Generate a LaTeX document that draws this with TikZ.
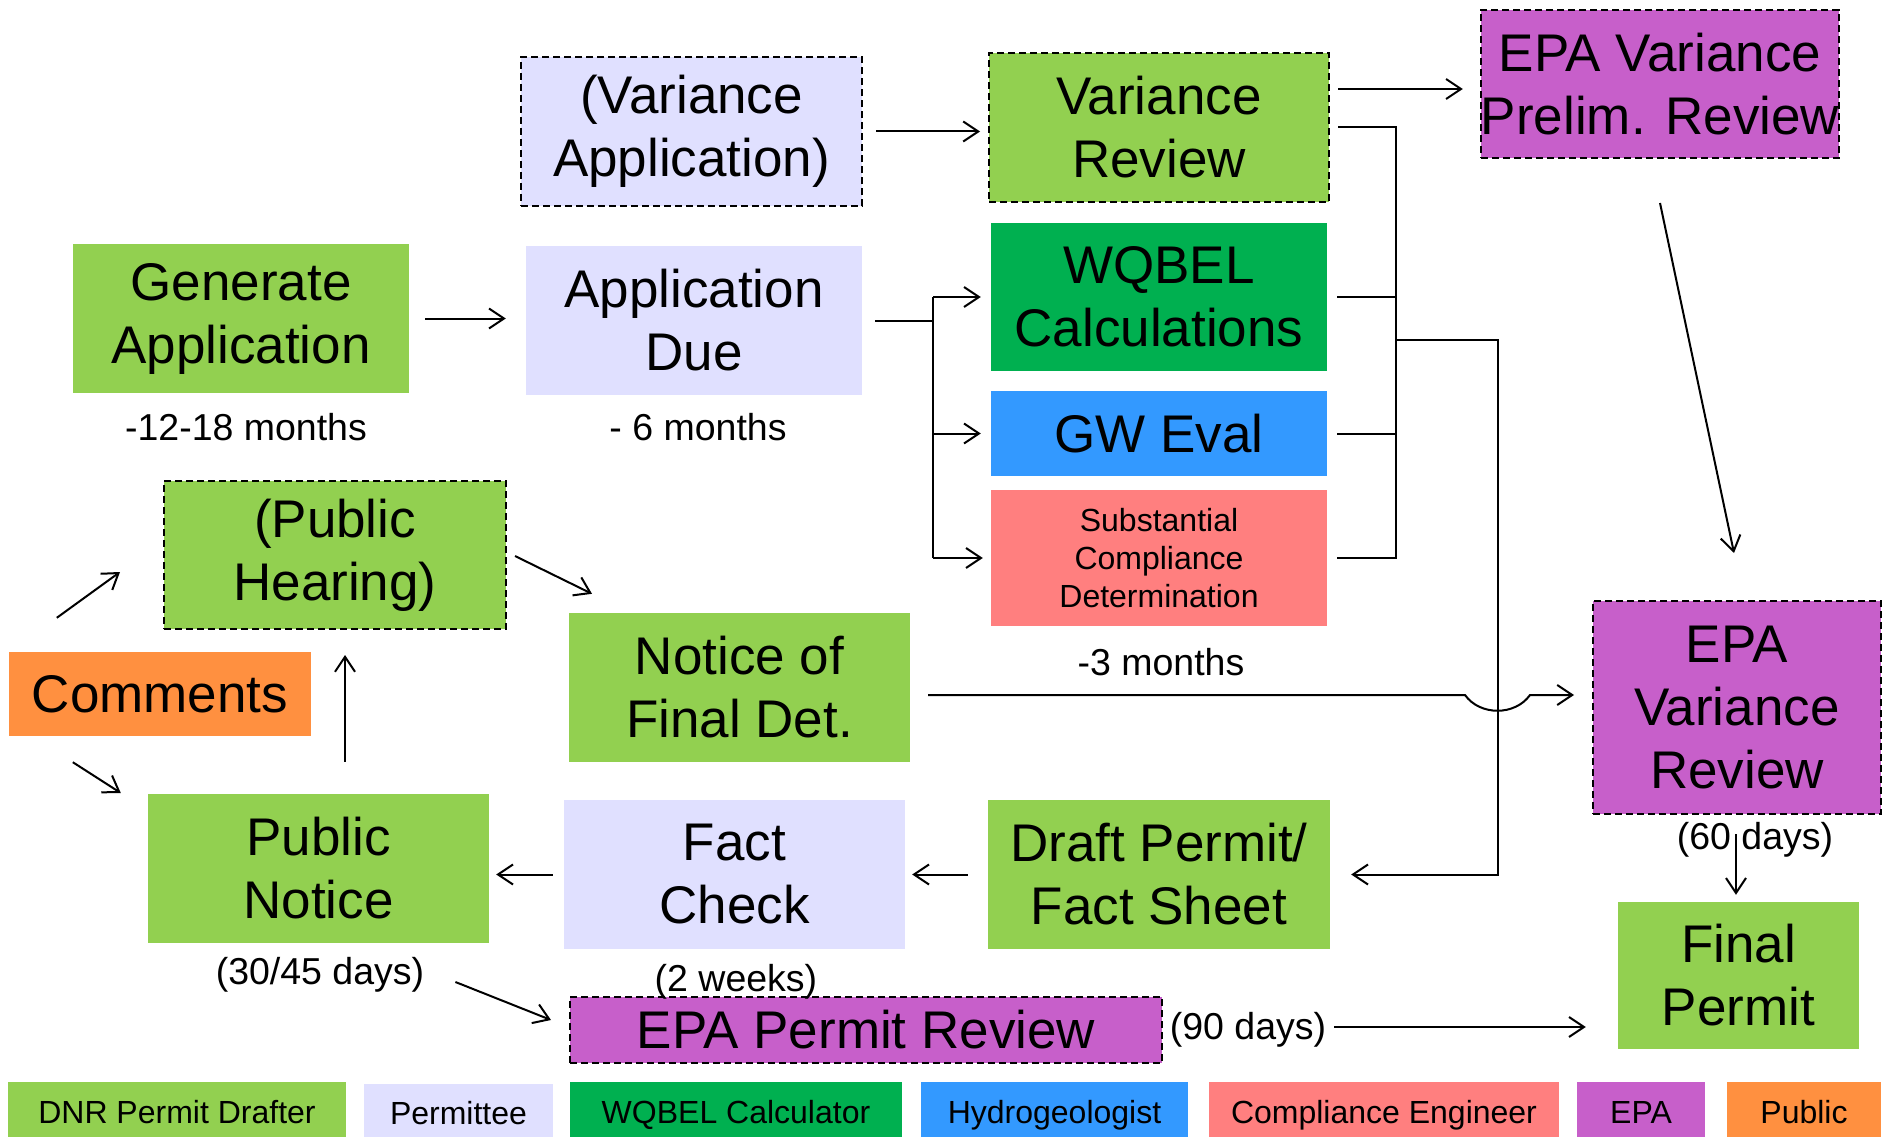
\documentclass[tikz,border=0pt]{standalone}
\usepackage{fontspec}
\setmainfont{Liberation Sans}
\usetikzlibrary{arrows.meta,calc}
\definecolor{dnr}{HTML}{92D050}
\definecolor{perm}{HTML}{E0E0FF}
\definecolor{wq}{HTML}{00B050}
\definecolor{hyd}{HTML}{3399FF}
\definecolor{ce}{HTML}{FF7F7F}
\definecolor{epa}{HTML}{C75FCA}
\definecolor{pub}{HTML}{FF9040}
\begin{document}
\begin{tikzpicture}[x=1pt,y=-1pt,
  box/.style={inner sep=0pt, align=center, font=\fontsize{53}{63}\selectfont, text=black},
  dbox/.style={box, draw=black, line width=2pt, dash pattern=on 7pt off 4pt},
  lab/.style={inner sep=0pt, font=\fontsize{37.5}{44}\selectfont},
  lbox/.style={inner sep=0pt, font=\fontsize{32}{38}\selectfont, minimum height=55pt, text height=28pt, text depth=0pt},
  conn/.style={line width=2pt},
  arr/.style={line width=2pt, -{Straight Barb[length=15pt,width=20pt]}},
]
\useasboundingbox (0,0) rectangle (1888,1137);

% boxes
\node[box, fill=dnr, minimum width=336pt, minimum height=149pt] (gen) at (241,318.5) {Generate\\Application};
\node[box, fill=perm, minimum width=336pt, minimum height=149pt] (appdue) at (694,320.5) {Application\\Due};
\node[dbox, fill=perm, minimum width=341pt, minimum height=149pt] (varapp) at (691.5,131.5) {(Variance\\Application)};
\node[dbox, fill=dnr, minimum width=340pt, minimum height=149pt] (varrev) at (1159,127.5) {Variance\\Review};
\node[dbox, fill=epa, minimum width=358pt, minimum height=148pt] (prelim) at (1660,84) {EPA Variance\\Prelim. Review};
\node[box, fill=wq, minimum width=336pt, minimum height=148pt] (wqbel) at (1159,297) {WQBEL\\Calculations};
\node[box, fill=hyd, minimum width=336pt, minimum height=85pt] (gw) at (1159,433.5) {GW Eval};
\node[box, fill=ce, minimum width=336pt, minimum height=136pt, font=\fontsize{32}{38}\selectfont] (subst) at (1159,558) {Substantial\\Compliance\\Determination};
\node[dbox, fill=dnr, minimum width=342pt, minimum height=148pt] (hearing) at (335,555) {(Public\\Hearing)};
\node[box, fill=pub, minimum width=302pt, minimum height=84pt] (comments) at (160,694) {Comments};
\node[box, fill=dnr, minimum width=341pt, minimum height=149pt] (nfd) at (739.5,687.5) {Notice of\\Final Det.};
\node[dbox, fill=epa, minimum width=288pt, minimum height=213pt] (epavr) at (1737,707.5) {EPA\\Variance\\Review};
\node[box, fill=dnr, minimum width=241pt, minimum height=147pt] (final) at (1738.5,975.5) {Final\\Permit};
\node[box, fill=dnr, minimum width=341pt, minimum height=149pt] (pubnot) at (318.5,868.5) {Public\\Notice};
\node[box, fill=perm, minimum width=341pt, minimum height=149pt] (fact) at (734.5,874.5) {Fact\\Check};
\node[box, fill=dnr, minimum width=342pt, minimum height=149pt] (draft) at (1159,874.5) {Draft Permit/\\Fact Sheet};
\node[dbox, fill=epa, minimum width=592pt, minimum height=66pt] (epapr) at (866,1030) {EPA Permit Review};

% labels
\node[lab] (m1218) at (246,427) {-12-18 months};
\node[lab] (m6) at (698,427) {- 6 months};
\node[lab] (m3) at (1161,662) {-3 months};
\node[lab] (d60) at (1755,840) {(60 days)};
\node[lab] (d3045) at (320,975) {(30/45 days)};
\node[lab] (w2) at (736,982) {(2 weeks)};
\node[lab] (d90) at (1248,1030) {(90 days)};

% legend
\node[lbox, fill=dnr, minimum width=338pt] (lg1) at (177,1109.5) {DNR Permit Drafter};
\node[lbox, fill=perm, minimum width=189pt, minimum height=53pt] (lg2) at (458.5,1110.5) {Permittee};
\node[lbox, fill=wq, minimum width=332pt] (lg3) at (736,1109.5) {WQBEL Calculator};
\node[lbox, fill=hyd, minimum width=267pt] (lg4) at (1054.5,1109.5) {Hydrogeologist};
\node[lbox, fill=ce, minimum width=350pt] (lg5) at (1384,1109.5) {Compliance Engineer};
\node[lbox, fill=epa, minimum width=128pt] (lg6) at (1641,1109.5) {EPA};
\node[lbox, fill=pub, minimum width=154pt] (lg7) at (1804,1109.5) {Public};

% connectors
\draw[arr] ($(gen.east)+(16,0)$) -- ($(gen.east -| appdue.west)+(-20,0)$);
\draw[arr] ($(varapp.east)+(13,0)$) -- ($(varapp.east -| varrev.west)+(-8,0)$);
\draw[arr] ($(varrev.east)+(8,-38.5)$) -- ($(prelim.west)+(-17,5)$);

\coordinate (fan) at (933,320.5);
\draw[conn] ($(appdue.east)+(13,0)$) -- (fan);
\draw[conn] (fan |- wqbel.west) -- (fan |- subst.west);
\draw[arr] (fan |- wqbel.west) -- ($(wqbel.west)+(-10,0)$);
\draw[arr] (fan |- gw.west) -- ($(gw.west)+(-10,0)$);
\draw[arr] (fan |- subst.west) -- ($(subst.west)+(-8,0)$);

\draw[conn] ($(varrev.east)+(8,0)$) -| ($(subst.east)+(69,0)$) -- ($(subst.east)+(10,0)$);
\draw[conn] ($(wqbel.east)+(10,0)$) -- ++(59,0);
\draw[conn] ($(gw.east)+(10,0)$) -- ++(59,0);
\coordinate (j) at ($(wqbel.east)+(69,43)$);
\draw[arr] (j) -- ++(102,0) |- ($(draft.east)+(21,0)$);

\coordinate (h1) at (1465,695);
\coordinate (h2) at (1530,695);
\draw[arr] ($(nfd.east)+(18,7.5)$) -- (h1) .. controls (1480,716) and (1515,716) .. (h2) -- ($(epavr.west)+(-18,-12.5)$);

\draw[arr] ($(prelim.south)+(0,44)$) -- ($(epavr.north)+(-3,-47)$);
\draw[arr] ($(epavr.south)+(-1,19)$) -- ($(epavr.south |- final.north)+(-1,-7)$);
\draw[arr] ($(d90.east)+(8,-3)$) -- ($(final.west |- d90.east)+(-32,-3)$);

\draw[arr] ($(draft.west)+(-20,0)$) -- ($(fact.east)+(7,0)$);
\draw[arr] ($(fact.west)+(-11,0)$) -- ($(fact.west -| pubnot.east)+(7,0)$);
\draw[arr] ($(pubnot.north)+(26.5,-32)$) -- ($(pubnot.north |- hearing.south)+(26.5,25)$);
\draw[arr] ($(comments.north west)+(48,-34)$) -- ($(hearing.west)+(-43,17)$);
\draw[arr] ($(comments.south west)+(64,26)$) -- ($(pubnot.west)+(-27,-75.5)$);
\draw[arr] ($(hearing.east)+(8,1)$) -- ($(nfd.north)+(-147.5,-19)$);
\draw[arr] ($(d3045.east)+(31,7)$) -- ($(epapr.west)+(-18,-10)$);
\end{tikzpicture}
\end{document}
